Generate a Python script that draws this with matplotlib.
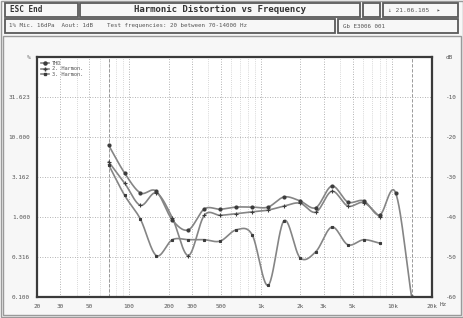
import numpy as np
import matplotlib
matplotlib.use("Agg")
import matplotlib.pyplot as plt
from matplotlib.patches import Rectangle
from matplotlib.lines import Line2D

plt.rcParams['font.family'] = ['DejaVu Sans Mono', 'DejaVu Sans']

# test frequencies (Hz)
freqs = [70, 92.5, 122, 161, 213, 282, 373, 493, 651, 861,
         1138, 1504, 1988, 2627, 3472, 4588, 6064, 8014, 10591, 14000]
# distortion in %
thd = [7.9, 3.55, 2.0, 2.1, 0.92, 0.69, 1.26, 1.25, 1.33, 1.33,
       1.33, 1.78, 1.59, 1.31, 2.44, 1.54, 1.59, 1.06, 2.0, 0.1]
harm2 = [4.9, 2.66, 1.4, 2.0, 0.98, 0.33, 1.05, 1.05, 1.1, 1.16,
         1.22, 1.37, 1.49, 1.15, 2.1, 1.37, 1.51, 1.0]
harm3 = [4.5, 1.87, 0.94, 0.33, 0.52, 0.52, 0.52, 0.5, 0.69, 0.6,
         0.14, 0.9, 0.31, 0.37, 0.75, 0.45, 0.52, 0.47]

pct_ticks = [100, 31.623, 10, 3.162, 1, 0.316, 0.1]
pct_labels = ["%", "31.623", "10.000", "3.162", "1.000", "0.316", "0.100"]
db_ticks = [0, -10, -20, -30, -40, -50, -60]
db_labels = ["dB", "-10", "-20", "-30", "-40", "-50", "-60"]
f_ticks = [20, 30, 50, 100, 200, 300, 500, 1000, 2000, 3000, 5000, 10000, 20000]
f_labels = ["20", "30", "50", "100", "200", "300", "500", "1k", "2k", "3k", "5k", "10k", "20k"]


def smooth(x, y, n=25):
    # cardinal (catmull-rom style) hermite curve in log-log space, for drawing only
    x = np.log10(np.asarray(x, float))
    y = np.log10(np.asarray(y, float))
    m = len(x)
    slope = np.zeros(m)
    slope[0] = (y[1] - y[0]) / (x[1] - x[0])
    slope[-1] = (y[-1] - y[-2]) / (x[-1] - x[-2])
    slope[1:-1] = (y[2:] - y[:-2]) / (x[2:] - x[:-2])
    xs_all, ys_all = [], []
    for i in range(m - 1):
        h = x[i + 1] - x[i]
        t = np.linspace(0, 1, n, endpoint=(i == m - 2))
        h00 = 2 * t ** 3 - 3 * t ** 2 + 1
        h10 = t ** 3 - 2 * t ** 2 + t
        h01 = -2 * t ** 3 + 3 * t ** 2
        h11 = t ** 3 - t ** 2
        xs_all.append(x[i] + t * h)
        ys_all.append(h00 * y[i] + h10 * h * slope[i] + h01 * y[i + 1] + h11 * h * slope[i + 1])
    return 10 ** np.concatenate(xs_all), 10 ** np.concatenate(ys_all)


W, H = 464, 318
fig = plt.figure(figsize=(W / 100, H / 100), dpi=100)
fig.patch.set_facecolor("#f7f7f7")


def box(x0, y0, x1, y1, lw=1.3, ec="#5a5a5a"):
    fig.add_artist(Rectangle((x0 / W, 1 - y1 / H), (x1 - x0) / W, (y1 - y0) / H,
                             transform=fig.transFigure, fill=False, lw=lw, ec=ec))


# header boxes
box(1, 1, 463, 317, lw=1.0, ec="#9a9a9a")
box(5, 3, 78, 17)
box(80, 3, 360, 17)
box(363, 3, 380, 17)
box(383, 3, 458, 17)
box(5, 19, 335, 33)
box(338, 19, 458, 33)
box(3, 36, 461, 315, lw=1.0, ec="#9a9a9a")

fig.text(10 / W, 1 - 10 / H, "ESC End", fontsize=5.5, fontweight="bold", va="center", color="#333")
fig.text(220 / W, 1 - 10 / H, "Harmonic Distortion vs Frequency", fontsize=6.5,
         fontweight="bold", ha="center", va="center", color="#333")
fig.text(388 / W, 1 - 10 / H, "\u2193 21.06.105  \u25b8", fontsize=4.5, va="center", color="#555")
fig.text(9 / W, 1 - 26 / H, "1% Mic. 16dPa  Aout: 1dB    Test frequencies: 20 between 70-14000 Hz",
         fontsize=4.2, va="center", color="#555")
fig.text(343 / W, 1 - 26 / H, "Gb E3006 001", fontsize=4.2, va="center", color="#555")

ax = fig.add_axes([37 / W, 1 - 297 / H, 395 / W, 240 / H])
ax.set_facecolor("white")
ax.set_xscale("log")
ax.set_yscale("log")
ax.set_xlim(20, 20000)
ax.set_ylim(0.1, 100)

ax.set_yticks(pct_ticks)
ax.set_yticklabels(pct_labels)
ax.yaxis.set_minor_locator(matplotlib.ticker.NullLocator())
ax.set_xticks(f_ticks)
ax.set_xticklabels(f_labels)
ax.xaxis.set_minor_locator(matplotlib.ticker.LogLocator(base=10, subs=np.arange(2, 10)))
ax.xaxis.set_minor_formatter(matplotlib.ticker.NullFormatter())
ax.tick_params(which="both", length=0, labelsize=4.3, colors="#555", pad=5)

ax.grid(True, which="major", ls=(0, (1, 2)), lw=0.6, color="#9a9a9a")
ax.grid(True, which="minor", axis="x", ls=(0, (1, 2)), lw=0.5, color="#b5b5b5")
for s in ax.spines.values():
    s.set_linewidth(1.6)
    s.set_color("#3a3a3a")

# test range limits
for fl in (70, 14000):
    ax.axvline(fl, color="#8a8a8a", lw=0.6, ls=(0, (4, 2)))

fig.text(440 / W, 1 - 305 / H, "Hz", fontsize=4.3, color="#555", va="center")

ax2 = ax.twinx()
ax2.set_ylim(-60, 0)
ax2.set_yticks(db_ticks)
ax2.set_yticklabels(db_labels)
ax2.tick_params(length=0, labelsize=4.3, colors="#555", pad=10)
for s in ax2.spines.values():
    s.set_visible(False)

line_c = "#858585"
mark_c = "#3c3c3c"
series = [(freqs, thd, "o", 2.2, "THD"),
          (freqs[:len(harm2)], harm2, "+", 3.0, "2. Harmon."),
          (freqs[:len(harm3)], harm3, "s", 1.8, "3. Harmon.")]
handles = []
for f, v, mk, ms, lab in series:
    xs, ys = smooth(f, v)
    ax.plot(xs, ys, color=line_c, lw=1.2, zorder=3)
    ax.plot(f, v, ls="none", marker=mk, ms=ms, color=mark_c, mew=0.8, zorder=4)
    handles.append(Line2D([], [], color=line_c, lw=1.2, marker=mk, ms=ms,
                          mfc=mark_c, mec=mark_c, label=lab))

ax.legend(handles=handles, loc="upper left", frameon=False, fontsize=3.8,
          handlelength=1.6, handletextpad=0.6, labelspacing=0.15,
          borderaxespad=0.3, labelcolor="#555")

fig.savefig("out.png", dpi=100, facecolor=fig.get_facecolor())
